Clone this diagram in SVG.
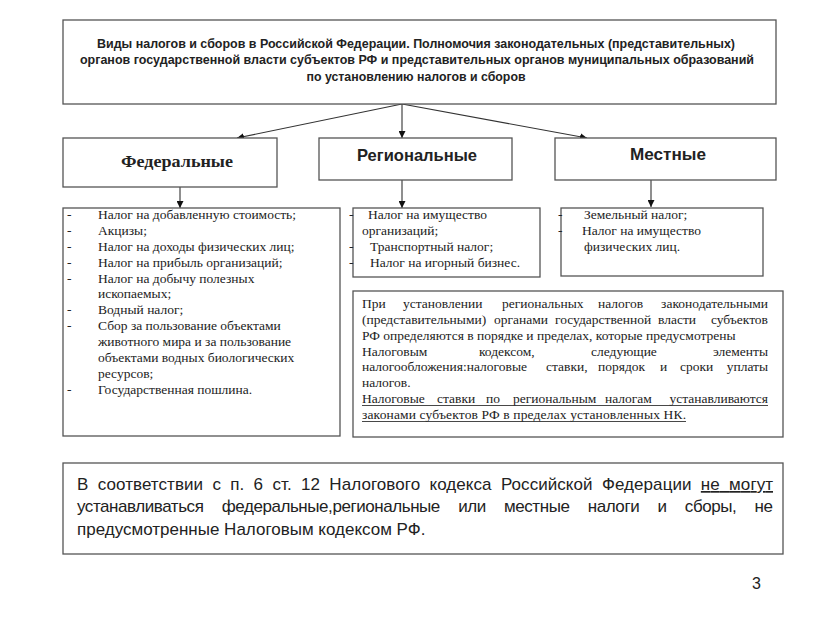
<svg xmlns="http://www.w3.org/2000/svg" width="831" height="623" viewBox="0 0 831 623">
<style>
.box{fill:#fff;stroke:#555;stroke-width:1.3}
.con{stroke:#333;stroke-width:1.1;fill:none;marker-end:url(#ah)}
.t{font-family:"Liberation Serif",serif;fill:#222}
.s{font-family:"Liberation Sans",Arial,sans-serif;fill:#222}
.title{font-size:13px;font-weight:bold;text-anchor:middle}
.head{font-size:16px;font-weight:bold;text-anchor:middle}
.head2{font-size:17px;font-weight:bold;text-anchor:middle}
.li{font-size:13.5px}
.bt{font-size:17px}
.e{text-anchor:end}
.u{text-decoration:underline}
.ul{stroke:#333;stroke-width:0.9}
</style>
<defs>
<marker id="ah" viewBox="0 0 10 10" refX="10" refY="5" markerWidth="7" markerHeight="7" orient="auto-start-reverse" markerUnits="userSpaceOnUse">
<path d="M0,0 L10,5 L0,10 z" fill="#111"/>
</marker>
</defs>
<rect width="831" height="623" fill="#fff"/>

<g id="connectors">
<line class="con" x1="402" y1="104" x2="237" y2="138"/>
<line class="con" x1="402" y1="104" x2="402" y2="138"/>
<line class="con" x1="402" y1="104" x2="587" y2="138"/>
<line class="con" x1="180" y1="187" x2="180" y2="208"/>
<line class="con" x1="402" y1="180" x2="402" y2="208"/>
<line class="con" x1="651" y1="180" x2="651" y2="207"/>
</g>

<g id="title">
<rect class="box" x="63" y="20" width="713" height="84"/>
<text class="s title" x="416" y="48" textLength="638" lengthAdjust="spacingAndGlyphs">Виды налогов и сборов в Российской Федерации. Полномочия законодательных (представительных)</text>
<text class="s title" x="417" y="64" textLength="674" lengthAdjust="spacingAndGlyphs">органов государственной власти субъектов РФ и представительных органов муниципальных образований</text>
<text class="s title" x="416" y="81" textLength="219" lengthAdjust="spacingAndGlyphs">по установлению налогов и сборов</text>
</g>

<g id="federal">
<rect class="box" x="63" y="138" width="214" height="49"/>
<text class="t head" x="177" y="167" textLength="112" lengthAdjust="spacingAndGlyphs">Федеральные</text>
</g>
<g id="regional">
<rect class="box" x="319" y="138" width="193" height="42"/>
<text class="s head2" x="417" y="161" textLength="120" lengthAdjust="spacingAndGlyphs">Региональные</text>
</g>
<g id="local">
<rect class="box" x="555" y="138" width="221" height="42"/>
<text class="s head2" x="668" y="160" textLength="76" lengthAdjust="spacingAndGlyphs">Местные</text>
</g>

<g id="federal-list">
<rect class="box" x="63" y="208" width="277" height="228"/>
<g class="t li">
<text x="67" y="219">-</text><text x="98" y="219">Налог на добавленную стоимость;</text>
<text x="67" y="235">-</text><text x="98" y="235">Акцизы;</text>
<text x="67" y="251">-</text><text x="98" y="251">Налог на доходы физических лиц;</text>
<text x="67" y="267">-</text><text x="98" y="267">Налог на прибыль организаций;</text>
<text x="67" y="283">-</text><text x="98" y="283">Налог на добычу полезных</text>
<text x="98" y="298">ископаемых;</text>
<text x="67" y="314">-</text><text x="98" y="314">Водный налог;</text>
<text x="67" y="330">-</text><text x="98" y="330">Сбор за пользование объектами</text>
<text x="98" y="346">животного мира и за пользование</text>
<text x="98" y="362">объектами водных биологических</text>
<text x="98" y="378">ресурсов;</text>
<text x="67" y="394">-</text><text x="98" y="394">Государственная пошлина.</text>
</g>
</g>

<g id="regional-list">
<rect class="box" x="353" y="208" width="187" height="69"/>
<g class="t li">
<text x="349" y="219">-</text><text x="368" y="219">Налог на имущество</text>
<text x="362" y="235">организаций;</text>
<text x="349" y="251">-</text><text x="370" y="251">Транспортный налог;</text>
<text x="349" y="267">-</text><text x="370" y="267">Налог на игорный бизнес.</text>
</g>
</g>

<g id="local-list">
<rect class="box" x="561" y="208" width="202" height="68"/>
<g class="t li">
<text x="558" y="219">-</text><text x="584" y="219">Земельный налог;</text>
<text x="558" y="235">-</text><text x="582" y="235">Налог на имущество</text>
<text x="584" y="251">физических лиц.</text>
</g>
</g>

<g id="regional-note">
<rect class="box" x="353" y="291" width="430" height="146"/>
<g class="t li">
<text y="308"><tspan x="362">При</tspan><tspan x="403">установлении</tspan><tspan x="502">региональных</tspan><tspan x="598">налогов</tspan></text>
<text class="e" x="768" y="308">законодательными</text>
<text y="324"><tspan x="362">(представительными)</tspan><tspan x="494">органами</tspan><tspan x="555">государственной</tspan><tspan x="658">власти</tspan></text>
<text class="e" x="768" y="324">субъектов</text>
<text x="362" y="340">РФ определяются в порядке и пределах, которые предусмотрены</text>
<text y="356"><tspan x="362">Налоговым</tspan><tspan x="479">кодексом,</tspan><tspan x="591">следующие</tspan></text>
<text class="e" x="768" y="356">элементы</text>
<text y="371"><tspan x="362">налогообложения:налоговые</tspan><tspan x="546">ставки,</tspan><tspan x="598">порядок</tspan><tspan x="660">и</tspan><tspan x="680">сроки</tspan></text>
<text class="e" x="768" y="371">уплаты</text>
<text x="362" y="387">налогов.</text>
<text y="403"><tspan x="362">Налоговые</tspan><tspan x="437">ставки</tspan><tspan x="486">по</tspan><tspan x="513">региональным</tspan><tspan x="605">налогам</tspan></text>
<text class="e" x="768" y="403">устанавливаются</text>
<text x="362" y="419" textLength="324" lengthAdjust="spacing">законами субъектов РФ в пределах установленных НК.</text>
</g>
<line class="ul" x1="362" y1="405.5" x2="768" y2="405.5"/>
<line class="ul" x1="362" y1="421.5" x2="686" y2="421.5"/>
</g>

<g id="note">
<rect class="box" x="63" y="463" width="720" height="91"/>
<g class="s bt">
<text x="77" y="490" word-spacing="4.5" textLength="696" lengthAdjust="spacing">В соответствии с п. 6 ст. 12 Налогового кодекса Российской Федерации <tspan class="u">не могут</tspan></text>
<text x="77" y="512" word-spacing="14" textLength="696" lengthAdjust="spacing">устанавливаться федеральные,региональные или местные налоги и сборы, не</text>
<text x="77" y="535">предусмотренные Налоговым кодексом РФ.</text>
</g>
</g>

<text class="s" x="752" y="589" font-size="16">3</text>
</svg>
